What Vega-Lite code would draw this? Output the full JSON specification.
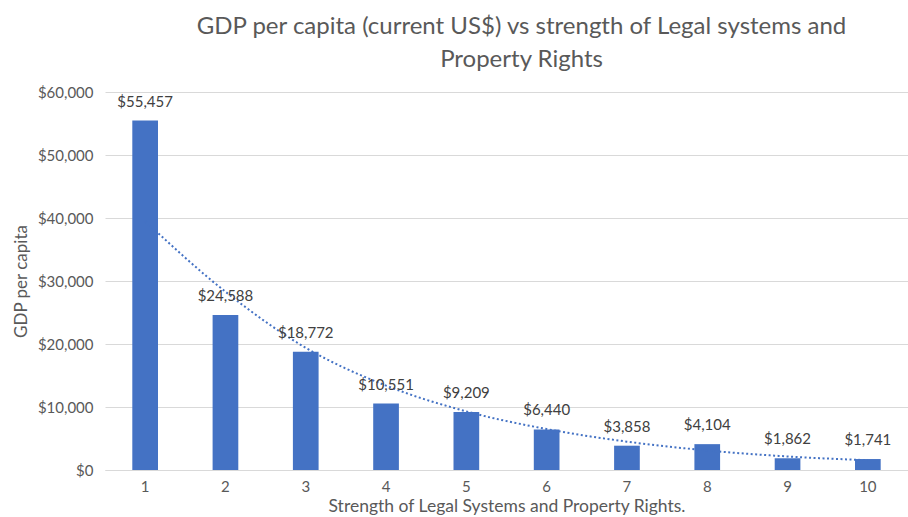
{
  "$schema": "https://vega.github.io/schema/vega-lite/v6.json",
  "autosize": {"type": "none"},
  "padding": {"left": 105, "top": 92, "right": 0, "bottom": 47},
  "width": 803,
  "height": 378,
  "background": "white",
  "config": {
    "font": "Lato",
    "view": {"stroke": null}
  },
  "title": {
    "text": ["GDP per capita (current US$) vs strength of Legal systems and", "Property Rights"],
    "fontSize": 24,
    "fontWeight": "normal",
    "color": "#595959",
    "lineHeight": 33,
    "anchor": "middle",
    "offset": 13,
    "dx": 15
  },
  "data": {
    "values": [
      {"x": 1, "gdp": 55457, "trend": 39500},
      {"x": 2, "gdp": 24588, "trend": 28300},
      {"x": 3, "gdp": 18772, "trend": 19400},
      {"x": 4, "gdp": 10551, "trend": 13400},
      {"x": 5, "gdp": 9209, "trend": 9300},
      {"x": 6, "gdp": 6440, "trend": 6500},
      {"x": 7, "gdp": 3858, "trend": 4500},
      {"x": 8, "gdp": 4104, "trend": 3100},
      {"x": 9, "gdp": 1862, "trend": 2150},
      {"x": 10, "gdp": 1741, "trend": 1550}
    ]
  },
  "encoding": {
    "x": {
      "field": "x",
      "type": "ordinal",
      "scale": {"paddingInner": 0.68, "paddingOuter": 0.34},
      "axis": {
        "title": "Strength  of Legal Systems and Property Rights.",
        "labelAngle": 0,
        "labelColor": "#595959",
        "labelFontSize": 15,
        "labelPadding": 9,
        "ticks": false,
        "domainColor": "#d9d9d9",
        "titleColor": "#595959",
        "titleFontSize": 17.5,
        "titleFontWeight": "normal",
        "titlePadding": 3
      }
    }
  },
  "layer": [
    {
      "mark": {"type": "bar", "color": "#4472C4"},
      "encoding": {
        "y": {
          "field": "gdp",
          "type": "quantitative",
          "scale": {"domain": [0, 60000]},
          "axis": {
            "values": [0, 10000, 20000, 30000, 40000, 50000, 60000],
            "format": "$,.0f",
            "title": "GDP per capita",
            "domain": false,
            "ticks": false,
            "gridColor": "#d9d9d9",
            "labelColor": "#595959",
            "labelFontSize": 15,
            "labelPadding": 12,
            "titleColor": "#595959",
            "titleFontSize": 17,
            "titleFontWeight": "normal",
            "titlePadding": 7
          }
        }
      }
    },
    {
      "mark": {"type": "line", "color": "#4472C4", "strokeWidth": 2, "strokeDash": [2, 2.5], "interpolate": "monotone"},
      "encoding": {
        "y": {"field": "trend", "type": "quantitative"}
      }
    },
    {
      "mark": {"type": "text", "baseline": "middle", "dy": -19, "fontSize": 15, "color": "#404040"},
      "encoding": {
        "y": {"field": "gdp", "type": "quantitative"},
        "text": {"field": "gdp", "type": "quantitative", "format": "$,.0f"}
      }
    }
  ]
}
